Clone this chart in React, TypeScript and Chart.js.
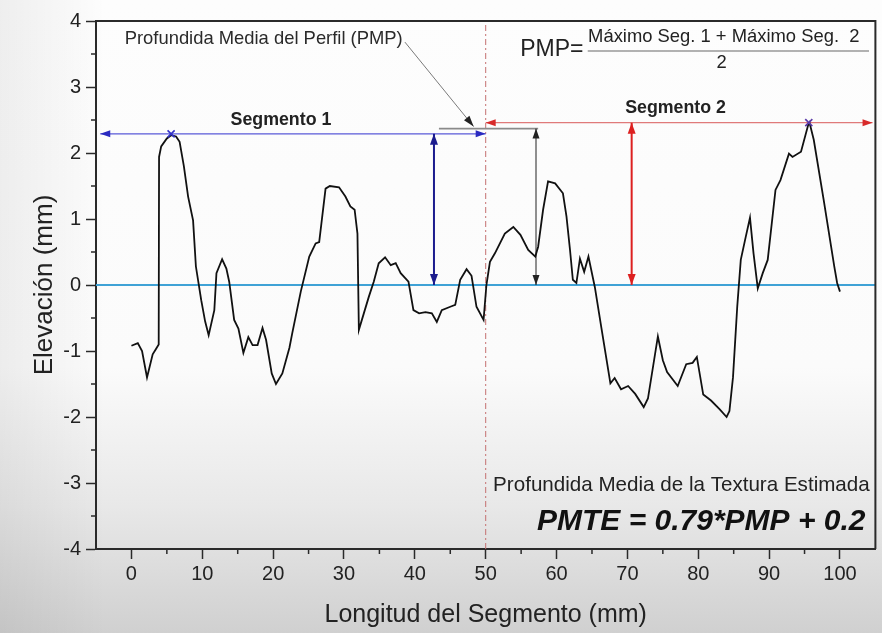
import { useEffect, useRef } from 'react';
import { Chart, registerables } from 'chart.js';

Chart.register(...registerables);

// ---- data ----
const PROFILE_X = [
  0, 0.9, 1.5, 2.2, 3.0, 3.4, 3.85, 3.9, 4.2, 5.0, 5.6, 6.3, 6.8, 7.4, 8.0, 8.7, 9.1, 9.85, 10.4, 10.9,
  11.7, 12.0, 12.8, 13.4, 13.8, 14.5, 15.1, 15.8, 16.5, 17.1, 17.8, 18.5, 19.0, 19.8, 20.4, 21.3, 22.3, 22.7, 23.9, 25.1,
  26.0, 26.5, 27.4, 28.0, 29.3, 30.2, 30.9, 31.5, 31.9, 32.1, 32.8, 33.5, 34.2, 34.9, 35.8, 36.6, 37.3, 38.0, 39.1, 39.8,
  40.6, 41.5, 42.4, 43.1, 43.8, 45.0, 45.7, 46.4, 47.3, 48.0, 48.7, 49.7, 50.1, 50.6, 51.3, 52.7, 53.9, 54.9, 56.0, 57.0,
  57.4, 58.1, 58.8, 59.8, 60.9, 61.4, 61.9, 62.3, 62.8, 63.3, 63.9, 64.5, 65.4, 66.3, 67.6, 68.2, 69.1, 70.1, 71.1, 72.3,
  72.9, 74.3, 75.0, 75.6, 77.1, 78.3, 79.2, 79.8, 80.7, 81.8, 83.0, 84.0, 84.4, 84.9, 85.5, 86.0, 86.7, 87.3, 87.8, 88.4,
  89.1, 89.8, 90.9, 91.6, 92.8, 93.3, 94.5, 95.5, 95.7, 96.3, 97.7, 99.2, 99.6, 100,
];
const PROFILE_Y = [
  -0.92, -0.88, -1.0, -1.4, -1.05, -0.98, -0.9, 1.94, 2.1, 2.22, 2.27, 2.25, 2.17, 1.8, 1.34, 0.98, 0.28, -0.23, -0.55, -0.76,
  -0.38, 0.18, 0.39, 0.25, 0.05, -0.53, -0.66, -1.03, -0.79, -0.91, -0.91, -0.65, -0.83, -1.34, -1.5, -1.34, -0.95, -0.73, -0.1, 0.43,
  0.63, 0.65, 1.46, 1.5, 1.48, 1.34, 1.19, 1.14, 0.78, -0.68, -0.43, -0.18, 0.05, 0.33, 0.42, 0.3, 0.33, 0.18, 0.05, -0.38,
  -0.43, -0.41, -0.43, -0.56, -0.38, -0.33, -0.3, 0.08, 0.24, 0.14, -0.33, -0.53, 0.0, 0.35, 0.48, 0.78, 0.88, 0.76, 0.53, 0.43,
  0.58, 1.14, 1.57, 1.54, 1.39, 1.04, 0.53, 0.08, 0.03, 0.4, 0.2, 0.43, -0.03, -0.63, -1.49, -1.41, -1.58, -1.53, -1.65, -1.85,
  -1.72, -0.78, -1.14, -1.32, -1.53, -1.2, -1.18, -1.09, -1.66, -1.75, -1.88, -2.0, -1.91, -1.4, -0.33, 0.38, 0.73, 1.02, 0.48, -0.05,
  0.18, 0.38, 1.44, 1.59, 1.99, 1.94, 2.02, 2.42, 2.46, 2.2, 1.29, 0.28, 0.03, -0.1,
];

const X_TICKS = [0, 10, 20, 30, 40, 50, 60, 70, 80, 90, 100];
const Y_TICKS = [-4, -3, -2, -1, 0, 1, 2, 3, 4];
const X_MINOR = [5, 15, 25, 35, 45, 55, 65, 75, 85, 95];
const Y_MINOR = [-3.5, -2.5, -1.5, -0.5, 0.5, 1.5, 2.5, 3.5];

const SEG_SPLIT = 50;
const SEG1_MAX = 2.29;
const SEG2_MAX = 2.46;
const PMP_VALUE = 2.37;
const SEG1_PEAK_X = 5.6;
const SEG2_PEAK_X = 95.6;
const SEG1_SPAN = [-4.4, 50];
const SEG2_SPAN = [50, 104.6];
const PMP_SPAN = [43.4, 57.4];
const SEG1_ARROW_X = 42.7;
const SEG2_ARROW_X = 70.6;
const PMP_ARROW_X = 57.1;
const LEADER_X = [38.6, 48.3];
const LEADER_Y = [3.68, 2.4];

const X_TITLE = 'Longitud del Segmento (mm)';
const Y_TITLE = 'Elevación (mm)';
const LABEL_PMP = 'Profundida Media del Perfil (PMP)';
const LABEL_SEG1 = 'Segmento 1';
const LABEL_SEG2 = 'Segmento 2';
const FORMULA_LEFT = 'PMP=';
const FORMULA_NUM = 'Máximo Seg. 1 + Máximo Seg.  2';
const FORMULA_DEN = '2';
const LABEL_PMTE = 'Profundida Media de la Textura Estimada';
const FORMULA_PMTE = 'PMTE = 0.79*PMP + 0.2';

const FONT = '"Liberation Sans", Arial, Helvetica, sans-serif';

const seg = (xs: number[], ys: number[]) => xs.map((x, i) => ({ x, y: ys[i] }));

const arrowPlugin = {
  id: 'arrowHeads',
  afterDatasetsDraw(chart: any) {
    const ctx = chart.ctx;
    chart.data.datasets.forEach((ds: any, i: number) => {
      if (!ds.arrowStart && !ds.arrowEnd) return;
      const pts = chart.getDatasetMeta(i).data;
      if (pts.length < 2) return;
      const a = pts[0];
      const b = pts[pts.length - 1];
      const L = ds.arrowLen || 10;
      const W = ds.arrowHalf || 3.5;
      const draw = (tip: any, from: any) => {
        const dx = tip.x - from.x;
        const dy = tip.y - from.y;
        const d = Math.hypot(dx, dy) || 1;
        const ux = dx / d, uy = dy / d;
        ctx.save();
        ctx.fillStyle = ds.arrowColor || ds.borderColor;
        ctx.beginPath();
        ctx.moveTo(tip.x, tip.y);
        ctx.lineTo(tip.x - ux * L - uy * W, tip.y - uy * L + ux * W);
        ctx.lineTo(tip.x - ux * L + uy * W, tip.y - uy * L - ux * W);
        ctx.closePath();
        ctx.fill();
        ctx.restore();
      };
      if (ds.arrowEnd) draw(b, a);
      if (ds.arrowStart) draw(a, b);
    });
  },
};

const framePlugin = {
  id: 'frameAndMinor',
  afterDraw(chart: any) {
    const { ctx, chartArea } = chart;
    const { left, right, top, bottom } = chartArea;
    const xs = chart.scales.x;
    const ys = chart.scales.y;
    ctx.save();
    ctx.strokeStyle = '#2a2a2a';
    ctx.lineWidth = 2;
    ctx.beginPath();
    ctx.moveTo(left, top);
    ctx.lineTo(right, top);
    ctx.lineTo(right, bottom);
    ctx.stroke();
    ctx.lineWidth = 1.5;
    ctx.beginPath();
    X_MINOR.forEach((v) => {
      const px = xs.getPixelForValue(v);
      ctx.moveTo(px, bottom);
      ctx.lineTo(px, bottom + 5);
    });
    Y_MINOR.forEach((v) => {
      const py = ys.getPixelForValue(v);
      ctx.moveTo(left, py);
      ctx.lineTo(left - 5, py);
    });
    ctx.stroke();
    ctx.restore();
  },
};

const textPlugin = {
  id: 'texts',
  afterDatasetsDraw(chart: any) {
    const { ctx } = chart;
    const xs = chart.scales.x;
    const ys = chart.scales.y;
    const X = (v: number) => xs.getPixelForValue(v);
    const Y = (v: number) => ys.getPixelForValue(v);
    const put = (t: string, x: number, y: number, font: string, align: CanvasTextAlign, color = '#222') => {
      ctx.font = font;
      ctx.fillStyle = color;
      ctx.textAlign = align;
      ctx.textBaseline = 'middle';
      ctx.fillText(t, x, y);
    };
    ctx.save();
    put(LABEL_PMP, X(-0.95), Y(3.73), `18.4px ${FONT}`, 'left', '#2a2a2a');
    put(LABEL_SEG1, X(21.1), Y(2.5), `bold 17.8px ${FONT}`, 'center', '#222');
    put(LABEL_SEG2, X(76.8), Y(2.68), `bold 17.8px ${FONT}`, 'center', '#222');
    put(FORMULA_LEFT, X(63.8), Y(3.56), `23px ${FONT}`, 'right', '#222');
    put(FORMULA_NUM, X(83.6), Y(3.76), `18.4px ${FONT}`, 'center', '#222');
    put(FORMULA_DEN, X(83.3), Y(3.36), `18.4px ${FONT}`, 'center', '#222');
    ctx.strokeStyle = '#999';
    ctx.lineWidth = 1.5;
    ctx.beginPath();
    ctx.moveTo(X(64.4), Y(3.545));
    ctx.lineTo(X(104.1), Y(3.545));
    ctx.stroke();
    put(LABEL_PMTE, X(104.2), Y(-3.03), `20.6px ${FONT}`, 'right', '#222');
    put(FORMULA_PMTE, X(103.6), Y(-3.58), `italic bold 30px ${FONT}`, 'right', '#111');
    ctx.restore();
  },
};

export default function App() {
  const ref = useRef<HTMLCanvasElement | null>(null);

  useEffect(() => {
    if (!ref.current) return;
    const line = (data: any[], color: string, width: number, extra: any = {}) => ({
      data,
      borderColor: color,
      borderWidth: width,
      pointRadius: 0,
      tension: 0,
      fill: false,
      ...extra,
    });
    const chart = new Chart(ref.current, {
      type: 'line',
      data: {
        datasets: [
          {
            data: [{ x: SEG1_PEAK_X, y: SEG1_MAX }],
            showLine: false,
            pointStyle: 'crossRot',
            pointRadius: 5,
            borderColor: '#3030c8',
            borderWidth: 1.6,
          } as any,
          {
            data: [{ x: SEG2_PEAK_X, y: SEG2_MAX }],
            showLine: false,
            pointStyle: 'crossRot',
            pointRadius: 5,
            borderColor: '#5a3aa8',
            borderWidth: 1.6,
          } as any,
          line(seg(PROFILE_X, PROFILE_Y), '#111111', 1.8),
          line(seg(LEADER_X, LEADER_Y), '#7a7a7a', 1, { arrowEnd: true, arrowColor: '#222', arrowLen: 11, arrowHalf: 3.5 }),
          line(seg([SEG1_ARROW_X, SEG1_ARROW_X], [0, SEG1_MAX]), '#1c1c8e', 2, { arrowStart: true, arrowEnd: true, arrowLen: 11, arrowHalf: 4 }),
          line(seg([SEG2_ARROW_X, SEG2_ARROW_X], [0, SEG2_MAX]), '#dd2020', 2, { arrowStart: true, arrowEnd: true, arrowLen: 11, arrowHalf: 4 }),
          line(seg([PMP_ARROW_X, PMP_ARROW_X], [0, PMP_VALUE]), '#222222', 1, { arrowStart: true, arrowEnd: true, arrowLen: 10, arrowHalf: 3.5 }),
          line(seg(PMP_SPAN, [PMP_VALUE, PMP_VALUE]), '#8a8a8a', 1.6),
          line(seg(SEG1_SPAN, [SEG1_MAX, SEG1_MAX]), '#5a5ad8', 1.2, { arrowStart: true, arrowEnd: true, arrowColor: '#2a2ac0', arrowLen: 10, arrowHalf: 3.5 }),
          line(seg(SEG2_SPAN, [SEG2_MAX, SEG2_MAX]), '#e07a7a', 1.2, { arrowStart: true, arrowEnd: true, arrowColor: '#d82a2a', arrowLen: 10, arrowHalf: 3.5 }),
          line(seg([SEG_SPLIT, SEG_SPLIT], [-4, 4]), '#c47070', 1, { borderDash: [6, 3, 2, 3] }),
          line(seg([-5, 105], [0, 0]), '#3fa2d6', 2),
        ],
      },
      options: {
        animation: false,
        responsive: false,
        events: [],
        layout: { padding: { top: 21, right: 4, left: 0, bottom: 0 } },
        plugins: { legend: { display: false }, tooltip: { enabled: false } },
        scales: {
          x: {
            type: 'linear',
            min: -5,
            max: 105,
            grid: { drawOnChartArea: false, drawTicks: true, tickLength: 10, tickColor: '#2a2a2a', tickWidth: 1.5 },
            border: { color: '#2a2a2a', width: 2 },
            ticks: {
              autoSkip: false,
              maxRotation: 0,
              padding: 3,
              color: '#222',
              font: { family: FONT, size: 20 },
              callback: (v: any) => String(v),
            },
            afterBuildTicks: (s: any) => {
              s.ticks = X_TICKS.map((value) => ({ value }));
            },
            afterFit: (s: any) => {
              s.height = 84;
            },
            title: {
              display: true,
              text: X_TITLE,
              color: '#222',
              font: { family: FONT, size: 25 },
              padding: { top: 0, bottom: 3 },
            },
          },
          y: {
            type: 'linear',
            min: -4,
            max: 4,
            grid: { drawOnChartArea: false, drawTicks: true, tickLength: 10, tickColor: '#2a2a2a', tickWidth: 1.5 },
            border: { color: '#2a2a2a', width: 2 },
            ticks: {
              autoSkip: false,
              padding: 5,
              color: '#222',
              font: { family: FONT, size: 20 },
              callback: (v: any) => String(v),
            },
            afterBuildTicks: (s: any) => {
              s.ticks = Y_TICKS.map((value) => ({ value }));
            },
            afterFit: (s: any) => {
              s.width = 96;
            },
            title: {
              display: true,
              text: Y_TITLE,
              color: '#222',
              font: { family: FONT, size: 26 },
              padding: { top: 29, bottom: 0 },
            },
          },
        },
      } as any,
      plugins: [arrowPlugin, framePlugin, textPlugin],
    });
    return () => chart.destroy();
  }, []);

  return (
    <div
      style={{
        position: 'fixed',
        left: 0,
        top: 0,
        width: 882,
        height: 633,
        background:
          'linear-gradient(to right, rgba(0,0,0,0.06) 0%, rgba(0,0,0,0) 12%), linear-gradient(to bottom, #fdfdfd 0%, #fbfbfb 58%, #e8e8e8 80%, #d0d0d0 100%)',
      }}
    >
      <canvas ref={ref} width={882} height={633} style={{ display: 'block' }} />
    </div>
  );
}
